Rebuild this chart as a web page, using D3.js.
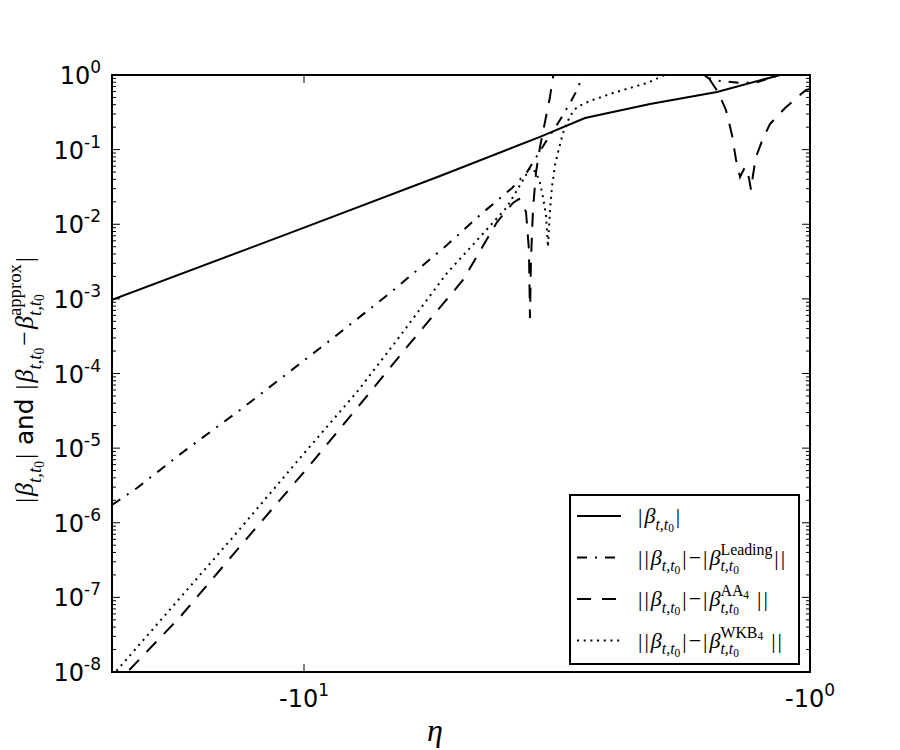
<!DOCTYPE html>
<meta charset="utf-8">
<style>
body { margin: 0; background: #fff; }
.frame { fill: none; stroke: #000; stroke-width: 2; }
.tick line { stroke: #000; stroke-width: 1; }
.curve { fill: none; stroke: #000; stroke-width: 2; }
.lbl { font-family: "DejaVu Sans", sans-serif; fill: #000; }
text { fill: #000; }
</style>
<svg width="900" height="750"></svg>
<script src="https://d3js.org/d3.v7.min.js"></script>
<script>

// |beta_{t,t0}|
var etaBeta = [-23.96, -10.18, -5.385, -3.417, -2.784, -2.071, -1.527, -1.146, -1.0];
var beta    = [9.7e-4, 8.6e-3, 4.43e-2, 0.148, 0.265, 0.409, 0.592, 1.0, 1.32];

// error of the leading approximation (goes off the top between -2.7 and -1.7)
var etaLead = [-23.96, -21.38, -17.34, -13.38, -8.76, -6.761, -5.217, -4.489, -3.880, -3.625,
               -3.310, -3.120, -2.981, -2.887, -2.810, -2.746, -2.2, -1.664, -1.590, -1.506,
               -1.375, -1.267, -1.200, -1.146, -1.071, -1.0];
var errLead = [1.73e-6, 2.92e-6, 8.87e-6, 3.24e-5, 2.99e-4, 1.20e-3, 5.27e-3, 1.33e-2, 3.06e-2, 5.01e-2,
               0.135, 0.249, 0.421, 0.629, 1.0, 1.49, 6, 1.17, 0.911, 0.831,
               0.781, 0.806, 0.912, 1.0, 1.20, 1.40];

// error of AA_4
var etaAA4 = [-23.96, -17.58, -13.20, -9.73, -7.824, -6.258, -4.851, -4.155, -3.864, -3.759,
              -3.641, -3.593, -3.576, -3.560, -3.528, -3.479, -3.417, -3.340, -3.265, -3.220,
              -3.177, -2.3, -1.612, -1.562, -1.520, -1.466, -1.426, -1.400, -1.375, -1.344,
              -1.320, -1.308, -1.296, -1.279, -1.244, -1.200, -1.120, -1.047, -1.018, -1.0];
var errAA4 = [6.1e-9, 5.46e-8, 5.36e-7, 5.94e-6, 3.56e-5, 2.27e-4, 1.79e-3, 1.07e-2, 1.93e-2, 2.18e-2,
              1.46e-2, 4.52e-3, 5.54e-4, 3.32e-3, 1.55e-2, 5.01e-2, 0.108, 0.235, 0.507, 0.940,
              1.59, 10, 1.10, 0.781, 0.592, 0.340, 0.157, 0.0726, 0.0430, 0.0585,
              0.0417, 0.0288, 0.0457, 0.0796, 0.1305, 0.2205, 0.361, 0.540, 0.629, 0.649];

// error of WKB_4
var etaWKB4 = [-23.96, -18.66, -13.81, -10.18, -7.859, -6.550, -5.217, -4.489, -3.971, -3.691,
               -3.576, -3.479, -3.417, -3.371, -3.325, -3.295, -3.265, -3.236, -3.191, -3.133,
               -3.077, -2.981, -2.887, -2.722, -2.451, -2.100, -1.935, -1.807, -1.4, -1.0];
var errWKB4 = [8.84e-9, 6.18e-8, 6.44e-7, 7.38e-6, 5.65e-5, 2.81e-4, 2.22e-3, 6.75e-3, 1.70e-2, 3.92e-2,
               5.67e-2, 5.01e-2, 3.57e-2, 2.32e-2, 1.33e-2, 4.96e-3, 1.55e-2, 3.16e-2, 6.22e-2, 0.105,
               0.167, 0.282, 0.373, 0.449, 0.574, 0.781, 1.0, 1.24, 4, 6];

var yExps = [0, -1, -2, -3, -4, -5, -6, -7, -8];
var xTicks = [-10, -1];
var xTickExps = ["1", "0"];

var svg = d3.select("svg"),
    margin = {top: 75, left: 112, right: 90, bottom: 78},
    width = 900 - margin.left - margin.right,
    height = 750 - margin.top - margin.bottom;

var g = svg.append("g").attr("transform", "translate(" + margin.left + "," + margin.top + ")");

// x is plotted as log(-eta), from -24 on the left to -1 on the right
var x = d3.scaleLog().domain([23.96, 1]).range([0, width]);
var y = d3.scaleLog().domain([1e-8, 1]).range([height, 0]);

svg.append("clipPath").attr("id", "clip")
  .append("rect").attr("x", 0).attr("y", 0).attr("width", width).attr("height", height);

var line = d3.line()
    .x(function(d) { return x(-d[0]); })
    .y(function(d) { return y(d[1]); });

var series = [
  {eta: etaBeta, v: beta, dash: null},
  {eta: etaLead, v: errLead, dash: "10,8,2,8"},
  {eta: etaAA4, v: errAA4, dash: "14,11"},
  {eta: etaWKB4, v: errWKB4, dash: "2,4.7"}
];

var curves = g.append("g").attr("clip-path", "url(#clip)");
series.forEach(function(s) {
  curves.append("path")
    .attr("class", "curve")
    .attr("stroke-dasharray", s.dash)
    .attr("d", line(d3.zip(s.eta, s.v)));
});

// ticks (inside, on all four sides)
var ticks = g.append("g").attr("class", "tick");
yExps.forEach(function(e) {
  var yy = y(Math.pow(10, e));
  ticks.append("line").attr("x1", 0).attr("x2", 8).attr("y1", yy).attr("y2", yy);
  ticks.append("line").attr("x1", width).attr("x2", width - 8).attr("y1", yy).attr("y2", yy);
  if (e > -8) {
    for (var m = 2; m < 10; m++) {
      var ym = y(m * Math.pow(10, e - 1));
      ticks.append("line").attr("x1", 0).attr("x2", 4).attr("y1", ym).attr("y2", ym);
      ticks.append("line").attr("x1", width).attr("x2", width - 4).attr("y1", ym).attr("y2", ym);
    }
  }
  var t = g.append("text").attr("class", "lbl")
    .attr("x", -11).attr("y", yy + 9)
    .attr("text-anchor", "end")
    .style("font-size", "24px");
  t.append("tspan").text("10");
  t.append("tspan").attr("dy", -11).style("font-size", "17px").text(e);
});

xTicks.forEach(function(v, i) {
  var xx = x(-v);
  ticks.append("line").attr("x1", xx).attr("x2", xx).attr("y1", height).attr("y2", height - 8);
  ticks.append("line").attr("x1", xx).attr("x2", xx).attr("y1", 0).attr("y2", 8);
  var t = g.append("text").attr("class", "lbl")
    .attr("x", xx).attr("y", height + 35)
    .attr("text-anchor", "middle")
    .style("font-size", "24px");
  t.append("tspan").text("-10");
  t.append("tspan").attr("dy", -11).style("font-size", "17px").text(xTickExps[i]);
});

g.append("rect").attr("class", "frame").attr("width", width).attr("height", height);

// small helper for math-like labels: runs of text pieces, and stacked sup/sub
var SERIF = "'Liberation Serif', 'Times New Roman', serif";
function drawRun(p, cx, y0, pieces, fs) {
  var w = 0;
  pieces.forEach(function(q) {
    var t = p.append("text")
      .attr("x", cx + w + (q.pl || 0)).attr("y", y0 + (q.dy || 0) * fs)
      .style("font-family", q.sans ? "'DejaVu Sans', sans-serif" : SERIF)
      .style("font-style", q.i ? "italic" : "normal")
      .style("font-size", (fs * (q.s || 1)) + "px")
      .style("white-space", "pre")
      .text(q.t);
    w += t.node().getComputedTextLength() + (q.pl || 0) + (q.pr || 0);
  });
  return w;
}
function drawMath(p, x0, y0, items, fs) {
  var cx = x0;
  items.forEach(function(it) {
    if (it.sup || it.sub) {
      var w1 = it.sup ? drawRun(p, cx, y0, it.sup, fs) : 0;
      var w2 = it.sub ? drawRun(p, cx, y0, it.sub, fs) : 0;
      cx += Math.max(w1, w2) + 1;
    } else {
      cx += drawRun(p, cx, y0, [it], fs);
    }
  });
  return cx - x0;
}

var subT = [{t: "t,t", i: true, s: 0.72, dy: 0.3}, {t: "0", s: 0.52, dy: 0.42}];
var bar = {t: "|", pl: 1, pr: 1}, b = {t: "β", i: true, pl: 1}, minus = {t: "−", pl: 1, pr: 1};
function supOf(parts) { return {sup: parts, sub: subT}; }

var legendItems = [
  {dash: null, math: [bar, b, {sub: subT}, bar]},
  {dash: "10,8,2,8", math: [bar, bar, b, {sub: subT}, bar, minus, bar, b,
      supOf([{t: "Leading", s: 0.72, dy: -0.45}]), bar, bar]},
  {dash: "14,11", math: [bar, bar, b, {sub: subT}, bar, minus, bar, b,
      supOf([{t: "AA", s: 0.72, dy: -0.45}, {t: "4", s: 0.52, dy: -0.33, pr: 6}]), bar, bar]},
  {dash: "2,4.7", math: [bar, bar, b, {sub: subT}, bar, minus, bar, b,
      supOf([{t: "WKB", s: 0.72, dy: -0.45}, {t: "4", s: 0.52, dy: -0.33, pr: 6}]), bar, bar]}
];

var lg = svg.append("g");
lg.append("rect").attr("x", 570).attr("y", 495).attr("width", 229).attr("height", 169)
  .attr("fill", "#fff").attr("stroke", "#000").attr("stroke-width", 2);
legendItems.forEach(function(d, i) {
  var yy = 516 + i * 41.5;
  lg.append("line").attr("class", "curve")
    .attr("x1", 577).attr("x2", 621).attr("y1", yy).attr("y2", yy)
    .attr("stroke-dasharray", d.dash);
  drawMath(lg, 637, yy + 7, d.math, 22);
});

// y axis label, rotated
var yl = svg.append("g").attr("transform", "translate(33,380) rotate(-90)");
var yin = yl.append("g");
var W = drawMath(yin, 0, 0, [bar, b, {sub: subT}, bar,
    {t: " and ", sans: true, s: 0.95},
    bar, b, {sub: subT}, minus, b, supOf([{t: "approx", s: 0.72, dy: -0.45}]), bar], 26);
yin.attr("transform", "translate(" + (-W / 2) + ",0)");

// x axis label
svg.append("text")
  .attr("x", 435).attr("y", 741)
  .attr("text-anchor", "middle")
  .style("font-family", SERIF)
  .style("font-style", "italic")
  .style("font-size", "32px")
  .text("η");

</script>
